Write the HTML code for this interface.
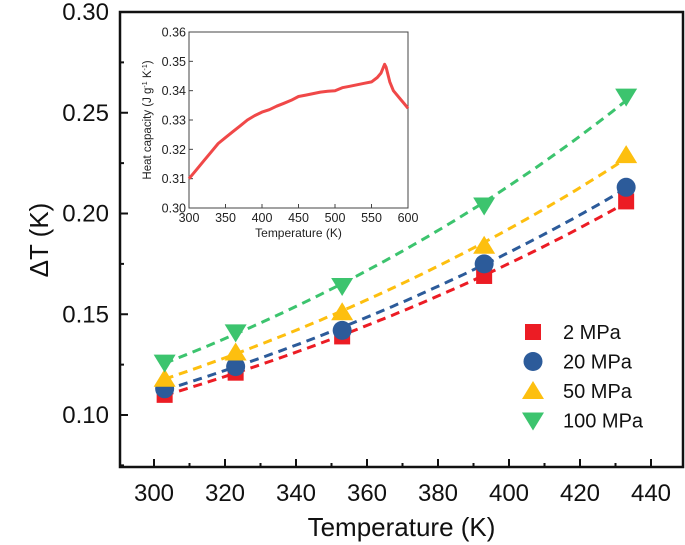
<!DOCTYPE html>
<html><head><meta charset="utf-8"><style>
html,body{margin:0;padding:0;background:#fff}
svg{display:block;font-family:"Liberation Sans",Arial,sans-serif}
</style></head><body>
<svg id="chart" width="685" height="545" viewBox="0 0 685 545" xmlns="http://www.w3.org/2000/svg"></svg>
<script>
const temps = [303, 323, 353, 393, 433];
const s2 = [0.110, 0.121, 0.139, 0.169, 0.206];
const s20 = [0.113, 0.124, 0.142, 0.175, 0.213];
const s50 = [0.118, 0.131, 0.151, 0.184, 0.229];
const s100 = [0.126, 0.141, 0.164, 0.204, 0.258];
const seriesNames = ["2 MPa", "20 MPa", "50 MPa", "100 MPa"];
const xTicks = [300, 320, 340, 360, 380, 400, 420, 440];
const yTicks = [0.10, 0.15, 0.20, 0.25, 0.30];
const cpT = [300,310,320,330,340,350,360,370,380,390,400,410,420,430,440,450,460,470,480,490,500,510,520,530,540,550,558,563,568,570,575,580,590,595,600];
const cpV = [0.310,0.313,0.316,0.319,0.322,0.324,0.326,0.328,0.330,0.3315,0.3327,0.3335,0.3347,0.3357,0.3367,0.338,0.3385,0.339,0.3395,0.3398,0.340,0.341,0.3415,0.342,0.3425,0.343,0.3445,0.346,0.349,0.348,0.343,0.340,0.337,0.3355,0.334];
const inXTicks = [300,350,400,450,500,550,600];
const inYTicks = [0.30,0.31,0.32,0.33,0.34,0.35,0.36];

const NS="http://www.w3.org/2000/svg";
const svg=document.getElementById('chart');
function mk(tag,attrs,parent){const e=document.createElementNS(NS,tag);for(const k in attrs)e.setAttribute(k,attrs[k]);(parent||svg).appendChild(e);return e;}
const L=120,R=683,T=12,B=467;
const x=v=>154+(v-300)*71/20;
const y=v=>415-(v-0.10)*2015;
const colors=["#ec1c24","#2c5b9a","#fdbf0f","#3cc46e"];
const allSeries=[s2,s20,s50,s100];

let f=mk('rect',{x:L,y:T,width:R-L,height:B-T,fill:'none',stroke:'#111','stroke-width':2.5});


xTicks.forEach((t,i)=>{
  let l=mk('line',{x1:x(t),x2:x(t),y1:B,y2:B-8,stroke:'#111','stroke-width':2});
  
  
  if(i<xTicks.length-1){let m=mk('line',{x1:x(t+10),x2:x(t+10),y1:B,y2:B-4,stroke:'#111','stroke-width':2});
  
  }
  let tx=mk('text',{x:x(t),y:B+34,'text-anchor':'middle','font-size':24,fill:'#111'});tx.textContent=t;
  
  
});
yTicks.forEach((t,i)=>{
  let l=mk('line',{x1:L,x2:L+8,y1:y(t),y2:y(t),stroke:'#111','stroke-width':2});
  
  
  let m=mk('line',{x1:L,x2:L+4,y1:y(t-0.025),y2:y(t-0.025),stroke:'#111','stroke-width':2});
  
  
  let tx=mk('text',{x:L-11,y:y(t)+8,'text-anchor':'end','font-size':24,fill:'#111'});tx.textContent=t.toFixed(2);
  
  
});
let xt=mk('text',{x:(L+R)/2,y:536,'text-anchor':'middle','font-size':26,fill:'#111'});xt.textContent='Temperature (K)';


let yt=mk('text',{x:0,y:0,'text-anchor':'middle','font-size':26,fill:'#111',transform:'translate(48,240) rotate(-90)'});yt.textContent='ΔT (K)';



function expFit(xs,ys){const n=xs.length;let sx=0,sy=0,sxx=0,sxy=0;xs.forEach((a,i)=>{const b=Math.log(ys[i]);sx+=a;sy+=b;sxx+=a*a;sxy+=a*b;});const k=(n*sxy-sx*sy)/(n*sxx-sx*sx);const c=(sy-k*sx)/n;return t=>Math.exp(c+k*t);}
allSeries.forEach((s,si)=>{
  const fn=expFit(temps,s);let d='';
  for(let t=temps[0];t<=temps[temps.length-1];t+=2){d+=(d?'L':'M')+x(t).toFixed(1)+','+y(fn(t)).toFixed(1);}
  let p=mk('path',{d:d,fill:'none',stroke:colors[si],'stroke-width':3,'stroke-dasharray':'9 6'});
  
  
});
function marker(si,cx,cy,parent){
  let e;const c=colors[si];
  if(si===0)e=mk('rect',{x:cx-8,y:cy-8,width:16,height:16,fill:c},parent);
  else if(si===1)e=mk('circle',{cx:cx,cy:cy,r:9.5,fill:c},parent);
  else if(si===2)e=mk('polygon',{points:`${cx},${cy-10} ${cx+11},${cy+8} ${cx-11},${cy+8}`,fill:c},parent);
  else e=mk('polygon',{points:`${cx-11},${cy-8} ${cx+11},${cy-8} ${cx},${cy+10}`,fill:c},parent);
  return e;
}
allSeries.forEach((s,si)=>{
  s.forEach((v,i)=>{
    let m=marker(si,x(temps[i]),y(v));
    
    
  });
});
seriesNames.forEach((n,si)=>{
  const ly=332+si*29.5;
  let m=marker(si,533,ly);
  
  
  let tx=mk('text',{x:563,y:ly+7,'font-size':20,fill:'#111'});tx.textContent=n;
  
  
});

const iL=189,iR=408,iT=32,iB=208;
const ix=v=>iL+(v-300)*(iR-iL)/300;
const iy=v=>iB-(v-0.30)*(iB-iT)/0.06;
let ir=mk('rect',{x:iL,y:iT,width:iR-iL,height:iB-iT,fill:'#fff',stroke:'#444','stroke-width':1});


inXTicks.forEach(t=>{
  let l=mk('line',{x1:ix(t),x2:ix(t),y1:iB,y2:iB-4,stroke:'#444'});
  
  
  let tx=mk('text',{x:ix(t),y:iB+14,'text-anchor':'middle','font-size':12.5,fill:'#222'});tx.textContent=t;
  
  
});
inYTicks.forEach(t=>{
  let l=mk('line',{x1:iL,x2:iL+4,y1:iy(t),y2:iy(t),stroke:'#444'});
  
  
  let tx=mk('text',{x:iL-3,y:iy(t)+4.5,'text-anchor':'end','font-size':12.5,fill:'#222'});tx.textContent=t.toFixed(2);
  
  
});
let ixt=mk('text',{x:(iL+iR)/2,y:iB+29,'text-anchor':'middle','font-size':12,fill:'#222'});ixt.textContent='Temperature (K)';


let iyt=mk('text',{x:0,y:0,'text-anchor':'middle','font-size':11.5,fill:'#222',transform:`translate(151,${(iT+iB)/2}) rotate(-90)`});
iyt.innerHTML='Heat capacity (J g<tspan dy="-4" font-size="7">-1</tspan><tspan dy="4"> K</tspan><tspan dy="-4" font-size="7">-1</tspan><tspan dy="4">)</tspan>';


let cd=cpT.map((t,i)=>(i?'L':'M')+ix(t).toFixed(1)+','+iy(cpV[i]).toFixed(1)).join('');
let cp=mk('path',{d:cd,fill:'none',stroke:'#f04848','stroke-width':3,'stroke-linejoin':'round'});


</script>
</body></html>
